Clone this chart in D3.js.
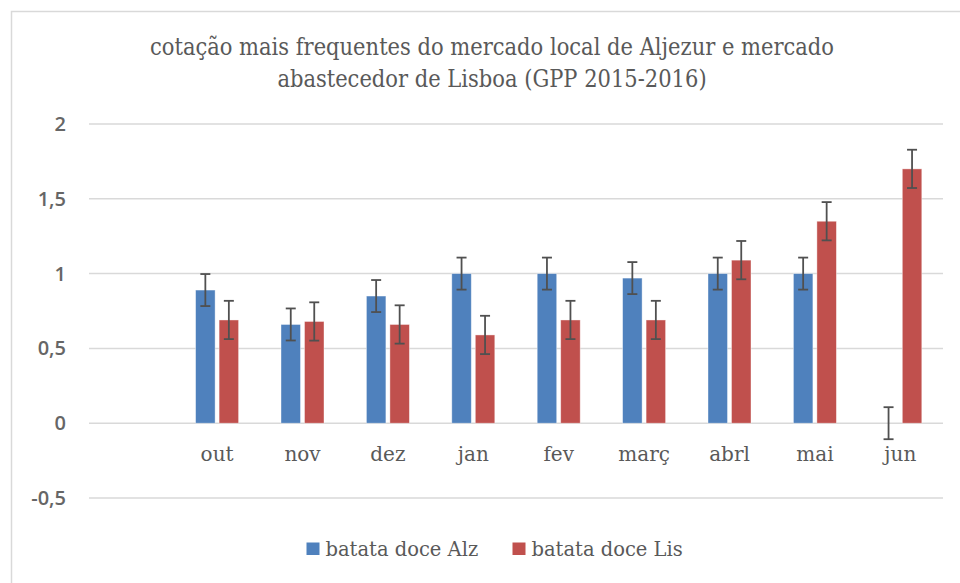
<!DOCTYPE html>
<html><head><meta charset="utf-8">
<script src="https://cdn.jsdelivr.net/npm/d3@7"></script>
<style>body{margin:0;background:#fff;} svg{display:block;}</style>
</head><body>
<script>
const categories = ["", "out", "nov", "dez", "jan", "fev", "març", "abrl", "mai", "jun"];
const alz = [null, 0.89, 0.66, 0.85, 1.0, 1.0, 0.97, 1.0, 1.0, 0];
const lis = [null, 0.69, 0.68, 0.66, 0.59, 0.69, 0.69, 1.09, 1.35, 1.70];
const errAlz = [null, 0.107, 0.107, 0.107, 0.107, 0.107, 0.107, 0.107, 0.107, 0.107];
const errLis = [null, 0.128, 0.128, 0.128, 0.128, 0.128, 0.128, 0.128, 0.128, 0.128];
const yTicks = [-0.5, 0, 0.5, 1, 1.5, 2];
const seriesNames = ["batata doce Alz", "batata doce Lis"];
const colors = ["#4F81BD", "#C0504D"];
const titleLines = ["cotação mais frequentes do mercado local de Aljezur e mercado", "abastecedor de Lisboa (GPP 2015-2016)"];

const W = 960, H = 583;
const svg = d3.select("body").append("svg").attr("width", W).attr("height", H);

// chart frame
svg.append("path").attr("d", "M11.5,583 V11.5 H960").attr("fill", "none").attr("stroke", "#d9d9d9").attr("stroke-width", 1.5);

const x = d3.scaleBand().domain(categories.map((c, i) => i)).range([89, 943]).padding(0);
const y = d3.scaleLinear().domain([-0.5, 2]).range([498, 124]);

// gridlines
svg.append("g").selectAll("line").data(yTicks).join("line")
  .attr("x1", 89).attr("x2", 943)
  .attr("y1", d => y(d)).attr("y2", d => y(d))
  .attr("stroke", "#d9d9d9").attr("stroke-width", 1.5);

// y axis labels
const fmt = d => String(d).replace(".", ",");
const yAxis = d3.axisLeft(y).tickValues(yTicks).tickFormat(fmt).tickSize(0).tickPadding(0);
const ya = svg.append("g").attr("transform", "translate(66,0)").call(yAxis);
ya.select(".domain").remove();
ya.selectAll("text").attr("font-family", "'Open Sans', sans-serif").attr("font-size", 20)
  .attr("font-weight", 600).attr("fill", "#666");

// bars
const barW = 19.5, gap = 2;
const series = [alz, lis];
const errs = [errAlz, errLis];
series.forEach((vals, s) => {
  const g = svg.append("g");
  const data = vals.map((v, i) => ({ i, v, e: errs[s][i] })).filter(d => d.v !== null);
  const off = s === 0 ? -gap - barW : gap;
  g.selectAll("rect").data(data.filter(d => d.v > 0)).join("rect")
    .attr("x", d => x(d.i) + x.bandwidth() / 2 + off)
    .attr("width", barW)
    .attr("y", d => y(d.v))
    .attr("height", d => y(0) - y(d.v))
    .attr("fill", colors[s])
    .attr("stroke", "#fff").attr("stroke-opacity", 0.5).attr("stroke-width", 0.8);
  // error bars
  const eb = svg.append("g").attr("stroke", "#505050").attr("stroke-width", 1.8).attr("fill", "none");
  data.forEach(d => {
    const cx = x(d.i) + x.bandwidth() / 2 + off + barW / 2;
    eb.append("line").attr("x1", cx).attr("x2", cx).attr("y1", y(d.v + d.e)).attr("y2", y(d.v - d.e));
    eb.append("line").attr("x1", cx - 5).attr("x2", cx + 5).attr("y1", y(d.v + d.e)).attr("y2", y(d.v + d.e));
    eb.append("line").attr("x1", cx - 5).attr("x2", cx + 5).attr("y1", y(d.v - d.e)).attr("y2", y(d.v - d.e));
  });
});

// x labels
const xAxis = d3.axisBottom(x).tickFormat(i => categories[i]).tickSize(0).tickPadding(0);
const xa = svg.append("g").attr("transform", "translate(0,447)").call(xAxis);
xa.select(".domain").remove();
xa.selectAll("text").attr("font-family", "'DejaVu Serif', serif").attr("font-size", 20).attr("fill", "#595959").attr("dy", "0.71em");

// title
svg.append("g").selectAll("text").data(titleLines).join("text")
  .attr("x", 492).attr("y", (d, i) => 55 + i * 32)
  .attr("text-anchor", "middle")
  .attr("font-family", "'DejaVu Serif Condensed', 'DejaVu Serif', serif")
  .attr("font-size", 23.4).attr("fill", "#595959")
  .text(d => d);

// legend
const legX = [306.5, 512.5];
const lg = svg.append("g");
seriesNames.forEach((n, s) => {
  lg.append("rect").attr("x", legX[s]).attr("y", 542.5).attr("width", 13).attr("height", 12.5).attr("fill", colors[s]);
  lg.append("text").attr("x", legX[s] + 19).attr("y", 555.5)
    .attr("font-family", "'DejaVu Serif', serif").attr("font-size", 19.5).attr("fill", "#595959").text(n);
});
</script>
</body></html>
